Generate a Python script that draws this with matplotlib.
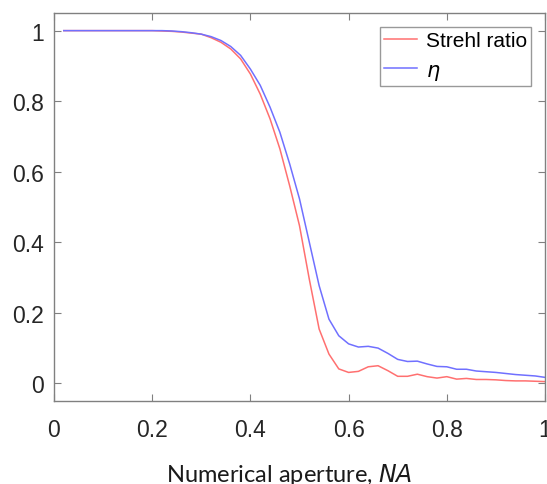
import numpy as np
import matplotlib
matplotlib.use("Agg")
import matplotlib.pyplot as plt

na = np.round(np.arange(0.02, 1.0001, 0.02), 2)

strehl = [1.0, 1.0, 1.0, 1.0, 1.0, 1.0, 1.0, 1.0, 1.0, 1.0,
          0.999, 0.998, 0.996, 0.993, 0.99, 0.98, 0.967, 0.948, 0.92, 0.877,
          0.82, 0.75, 0.665, 0.56, 0.447, 0.295, 0.154, 0.083, 0.041, 0.031,
          0.034, 0.047, 0.05, 0.036, 0.02, 0.02, 0.026, 0.019, 0.015, 0.019,
          0.012, 0.014, 0.011, 0.011, 0.01, 0.008, 0.007, 0.007, 0.006, 0.005]

eta = [1.0, 1.0, 1.0, 1.0, 1.0, 1.0, 1.0, 1.0, 1.0, 1.0,
       1.0, 0.999, 0.997, 0.994, 0.99, 0.983, 0.972, 0.955, 0.93, 0.891,
       0.845, 0.783, 0.712, 0.622, 0.523, 0.40, 0.277, 0.182, 0.135, 0.112,
       0.103, 0.105, 0.10, 0.085, 0.068, 0.062, 0.063, 0.055, 0.048, 0.047,
       0.04, 0.04, 0.035, 0.033, 0.031, 0.028, 0.025, 0.023, 0.021, 0.017]

xticks = [0, 0.2, 0.4, 0.6, 0.8, 1]
xticklabels = ["0", "0.2", "0.4", "0.6", "0.8", "1"]
yticks = [0, 0.2, 0.4, 0.6, 0.8, 1]
yticklabels = ["0", "0.2", "0.4", "0.6", "0.8", "1"]

plt.rcParams['font.family'] = ['Liberation Sans', 'DejaVu Sans']

fig = plt.figure(figsize=(5.47, 4.85), dpi=100)
ax = fig.add_axes([54 / 547, 83 / 485, 491 / 547, 388 / 485])

ax.plot(na, strehl, color='#ff7070', lw=1.1, label='Strehl ratio')
ax.plot(na, eta, color='#7070ff', lw=1.1, label=r'$\eta$')

ax.set_xlim(0, 1)
ax.set_ylim(-0.05, 1.05)
ax.set_xticks(xticks)
ax.set_xticklabels(xticklabels)
ax.set_yticks(yticks)
ax.set_yticklabels(yticklabels)
ax.tick_params(direction='in', top=True, right=True, length=5, width=0.8,
               color='#808080', labelsize=16.5, labelcolor='#262626')
ax.tick_params(axis='x', pad=12)
ax.tick_params(axis='y', pad=7)
for s in ax.spines.values():
    s.set_color('#808080')
    s.set_linewidth(1.0)

ax.set_xlabel(r'Numerical aperture, $\mathit{NA}$', fontsize=17,
              family=['Lato', 'DejaVu Sans'], labelpad=15, color='#1a1a1a')
ax.xaxis.label.set_x(0.479)

leg = ax.legend(loc='upper right', fontsize=15, frameon=True, fancybox=False,
                handlelength=1.6, handletextpad=0.4, borderpad=0.2,
                labelspacing=0.5, borderaxespad=0,
                bbox_to_anchor=(0.9715, 0.964))
leg.get_frame().set_edgecolor('#808080')
leg.get_frame().set_linewidth(1.0)

fig.savefig('out.png', dpi=100)
